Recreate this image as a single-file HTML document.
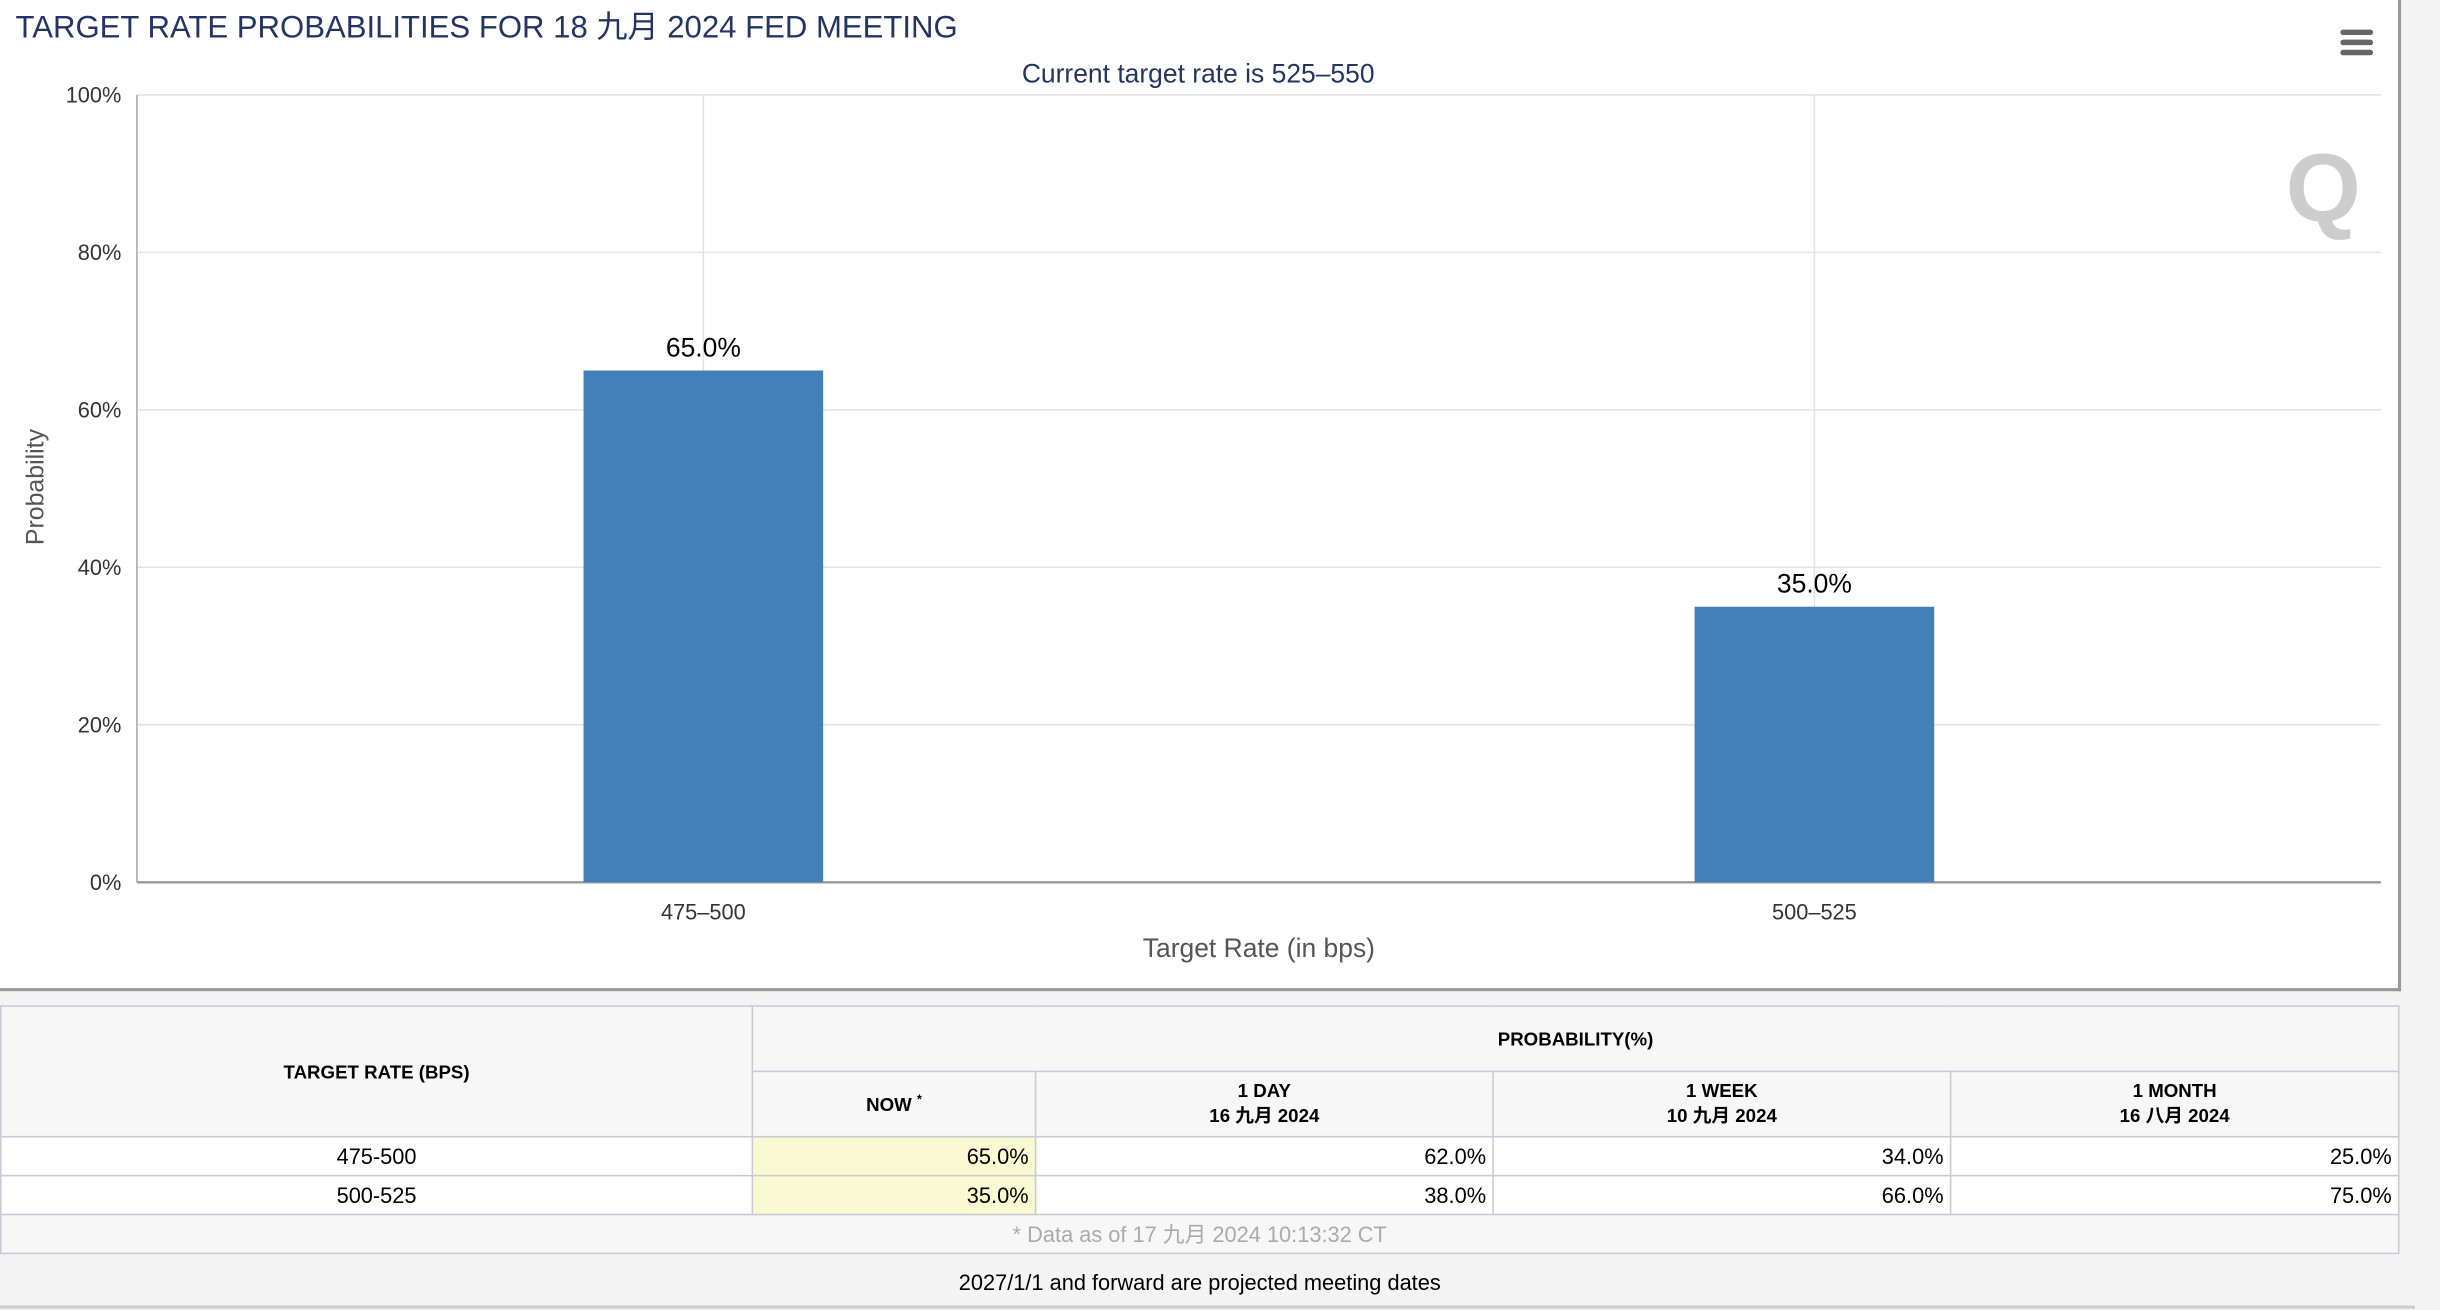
<!DOCTYPE html>
<html><head><meta charset="utf-8">
<style>
html,body{margin:0;padding:0;width:2440px;height:1310px;overflow:hidden;background:#f4f4f4}
#wrap{position:absolute;left:0;top:0;width:1568px;height:842px;transform:scale(1.5561);transform-origin:0 0;font-family:"Liberation Sans","Noto Sans CJK SC",sans-serif}
#chart{position:absolute;left:0;top:0;width:1541px;height:635px;background:#fff;border-right:2px solid #999;border-bottom:2px solid #999}
table{position:absolute;left:0;top:646px;width:1542px;border-collapse:collapse;font-size:14px;color:#000}
td,th{border:1px solid #c8cbd6;padding:0 4px}
th{background:#f7f7f7;font-size:12px;font-weight:bold;text-align:center}
td.r{text-align:right}
td.now{background:#fafad2}
</style></head><body>
<div id="wrap">
<div id="chart">
<svg id="svg" width="1541" height="635" xmlns="http://www.w3.org/2000/svg">
<text x="10" y="24" font-size="20" fill="#253561" font-family="Liberation Sans, Noto Sans CJK SC, sans-serif">TARGET RATE PROBABILITIES FOR 18 九月 2024 FED MEETING</text>
<text x="770" y="53" font-size="17" fill="#253561" text-anchor="middle">Current target rate is 525–550</text>
<g>
<rect x="1504" y="19" width="21" height="3.5" rx="1.7" fill="#666"/><rect x="1504" y="25.5" width="21" height="3.5" rx="1.7" fill="#666"/><rect x="1504" y="32" width="21" height="3.5" rx="1.7" fill="#666"/>
</g>
<g opacity="0.9">
<text x="1493" y="142" font-size="62" font-weight="bold" fill="#c8c8c8" text-anchor="middle">Q</text>
</g>
<g id="grid"></g><g id="bars"></g>
<text transform="translate(28,313) rotate(-90)" font-size="16" fill="#555" text-anchor="middle">Probability</text>
<text x="809" y="615" font-size="17" fill="#555" text-anchor="middle">Target Rate (in bps)</text>
</svg>
</div>
<table>
<tr style="height:42px"><th rowspan="2" style="width:474px">TARGET RATE (BPS)</th><th colspan="4">PROBABILITY(%)</th></tr>
<tr style="height:42px"><th style="width:173px">NOW <sup style="font-size:8px">*</sup></th><th style="width:285px">1 DAY<br>16 九月 2024</th><th style="width:285px">1 WEEK<br>10 九月 2024</th><th>1 MONTH<br>16 八月 2024</th></tr>
<tr style="height:25px;background:#fff"><td style="text-align:center">475-500</td><td class="r now">65.0%</td><td class="r">62.0%</td><td class="r">34.0%</td><td class="r">25.0%</td></tr>
<tr style="height:25px;background:#fff"><td style="text-align:center">500-525</td><td class="r now">35.0%</td><td class="r">38.0%</td><td class="r">66.0%</td><td class="r">75.0%</td></tr>
<tr style="height:25px;background:#f7f7f7"><td colspan="5" style="text-align:center;color:#aaa">* Data as of 17 九月 2024 10:13:32 CT</td></tr>
</table>
<div style="position:absolute;left:0;top:816px;width:1542px;text-align:center;font-size:14px">2027/1/1 and forward are projected meeting dates</div>
<div style="position:absolute;left:0;top:839px;width:1552px;height:2px;background:#ccc"></div>
</div>
<script>
const categories=["475-500","500-525"];
const values=[65.0,35.0];
const yTicks=[0,20,40,60,80,100];
const NS="http://www.w3.org/2000/svg";
const L=88,R=1530,T=61,B=567,xL=95,xR=1523;
const y=v=>B-(v/100)*(B-T);
const band=(xR-xL)/categories.length;
const xc=i=>xL+band*(i+0.5);
const grid=document.getElementById('grid'),bars=document.getElementById('bars');
function mk(t,a,p){const e=document.createElementNS(NS,t);for(const k in a)e.setAttribute(k,a[k]);p.appendChild(e);return e;}
yTicks.forEach(v=>{
  const ln=mk('line',{x1:L,x2:R,y1:y(v),y2:y(v),stroke:v===0?'#999':'#e3e3e3','stroke-width':v===0?1.5:1},grid);
  
  
  const t=mk('text',{x:78,y:y(v)+5,'font-size':14,fill:'#333','text-anchor':'end'},grid);
  t.textContent=v+'%';
  
  
});
mk('line',{x1:L,x2:L,y1:T,y2:B,stroke:'#aaa','stroke-width':1},grid);
categories.forEach((c,i)=>{
  const g=mk('line',{x1:xc(i),x2:xc(i),y1:T,y2:B,stroke:'#e3e3e3','stroke-width':1},grid);
  
  
  const w=154;
  const r=mk('rect',{x:xc(i)-w/2,y:y(values[i]),width:w,height:B-y(values[i]),fill:'#4380b7'},bars);
  
  
  const lb=mk('text',{x:xc(i),y:y(values[i])-9,'font-size':17,fill:'#000','text-anchor':'middle'},bars);
  lb.textContent=values[i].toFixed(1)+'%';
  
  
  const xl=mk('text',{x:xc(i),y:591,'font-size':14,fill:'#333','text-anchor':'middle'},bars);
  xl.textContent=c.replace('-','–');
  
  
});
</script>
</body></html>
